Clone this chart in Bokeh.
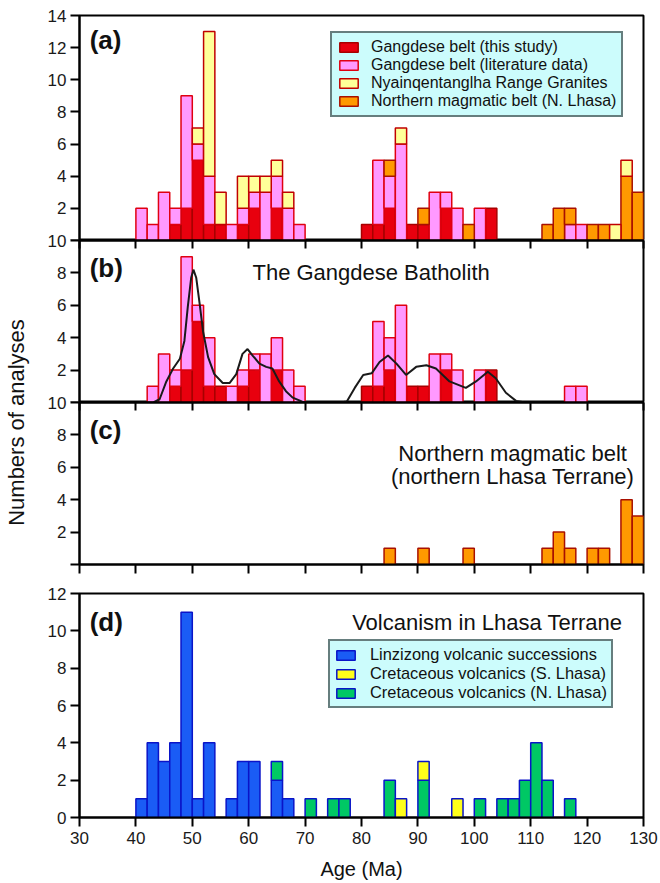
import numpy as np
from bokeh.plotting import figure
from bokeh.layouts import column, row
from bokeh.models import Range1d, FixedTicker, LinearAxis, Legend, LegendItem, Label
from bokeh.embed import file_html
from bokeh.resources import INLINE

FONT = "Liberation Sans"

# ---------------- data (2-Ma bins, left edges) ----------------
bin_left = [40, 42, 44, 46, 48, 50, 52, 54, 56, 58,
            60, 62, 64, 66, 68, 70, 72, 74, 76, 78,
            80, 82, 84, 86, 88, 90, 92, 94, 96, 98,
            100, 102, 104, 106, 108, 110, 112, 114, 116, 118,
            120, 122, 124, 126, 128]

# (a) all granitoids
a_this = [0, 0, 0, 1, 2, 5, 1, 1, 0, 1,
          2, 0, 2, 0, 0, 0, 0, 0, 0, 0,
          1, 1, 2, 0, 1, 1, 0, 2, 0, 0,
          0, 2, 0, 0, 0, 0, 0, 0, 0, 0,
          0, 0, 0, 0, 0]
a_lit = [2, 1, 3, 1, 7, 1, 3, 0, 1, 1,
         1, 3, 2, 2, 1, 0, 0, 0, 0, 0,
         0, 4, 2, 6, 0, 0, 3, 1, 2, 0,
         2, 0, 0, 0, 0, 0, 0, 0, 1, 1,
         0, 0, 0, 0, 0]
a_north = [0, 0, 0, 0, 0, 0, 0, 0, 0, 0,
           0, 0, 0, 0, 0, 0, 0, 0, 0, 0,
           0, 0, 1, 0, 0, 1, 0, 0, 0, 1,
           0, 0, 0, 0, 0, 0, 1, 2, 1, 0,
           1, 1, 0, 4, 3]
a_nyain = [0, 0, 0, 0, 0, 1, 9, 2, 0, 2,
           1, 1, 1, 1, 0, 0, 0, 0, 0, 0,
           0, 0, 0, 1, 0, 0, 0, 0, 0, 0,
           0, 0, 0, 0, 0, 0, 0, 0, 0, 0,
           0, 0, 1, 1, 0]

# (b) Gangdese batholith
b_this = [0, 0, 0, 1, 2, 5, 1, 1, 0, 1,
          2, 0, 2, 0, 0, 0, 0, 0, 0, 0,
          1, 1, 2, 0, 1, 1, 0, 2, 0, 0,
          0, 2, 0, 0, 0, 0, 0, 0, 0, 0,
          0, 0, 0, 0, 0]
b_lit = [0, 1, 3, 1, 7, 1, 3, 0, 1, 1,
         1, 3, 2, 2, 1, 0, 0, 0, 0, 0,
         0, 4, 2, 6, 0, 0, 3, 1, 2, 0,
         2, 0, 0, 0, 0, 0, 0, 0, 1, 1,
         0, 0, 0, 0, 0]
kde_age = [40.5, 43.1, 44.2, 45.4, 46.6, 47.8, 48.6, 49.2, 49.8, 50.2,
           50.7, 51.3, 51.9, 52.8, 53.9, 55.4, 56.6, 57.8, 58.9, 59.8,
           60.7, 61.9, 63.1, 64.2, 65.4, 66.6, 67.8, 69.5, 71.3, 76.2,
           77.4, 78.8, 80.3, 81.8, 83.2, 84.7, 86.2, 87.9, 89.7, 91.5,
           93.2, 95.6, 98.5, 100.3, 102.4, 103.8, 105.6, 107.4, 109.1, 112.0]
kde_val = [0, 0, 0.2, 1.3, 2.1, 2.7, 3.8, 5.9, 7.7, 8.2,
           7.7, 6.1, 4.4, 2.8, 1.75, 1.2, 1.2, 1.75, 3.0, 3.3,
           2.9, 2.4, 2.2, 2.1, 1.3, 0.7, 0.3, 0.05, 0, 0,
           0.06, 0.9, 1.7, 1.8, 2.5, 2.9, 2.4, 1.7, 2.2, 2.3,
           2.1, 1.3, 0.9, 1.3, 1.9, 1.5, 0.6, 0.1, 0, 0]

# (c) northern magmatic belt
c_north = [0, 0, 0, 0, 0, 0, 0, 0, 0, 0,
           0, 0, 0, 0, 0, 0, 0, 0, 0, 0,
           0, 0, 1, 0, 0, 1, 0, 0, 0, 1,
           0, 0, 0, 0, 0, 0, 1, 2, 1, 0,
           1, 1, 0, 4, 3]

# (d) volcanism
d_linz = [1, 4, 3, 4, 11, 1, 4, 0, 1, 3,
          3, 0, 2, 1, 0, 0, 0, 0, 0, 0,
          0, 0, 0, 0, 0, 0, 0, 0, 0, 0,
          0, 0, 0, 0, 0, 0, 0, 0, 0, 0,
          0, 0, 0, 0, 0]
d_nl = [0, 0, 0, 0, 0, 0, 0, 0, 0, 0,
        0, 0, 1, 0, 0, 1, 0, 1, 1, 0,
        0, 0, 2, 0, 0, 2, 0, 0, 0, 0,
        1, 0, 1, 1, 2, 4, 2, 0, 1, 0,
        0, 0, 0, 0, 0]
d_sl = [0, 0, 0, 0, 0, 0, 0, 0, 0, 0,
        0, 0, 0, 0, 0, 0, 0, 0, 0, 0,
        0, 0, 0, 1, 0, 1, 0, 0, 1, 0,
        0, 0, 0, 0, 0, 0, 0, 0, 0, 0,
        0, 0, 0, 0, 0]

x_ticks = [30, 40, 50, 60, 70, 80, 90, 100, 110, 120, 130]

# ---------------- styles ----------------
RED_F, RED_L = "#e8000e", "#a80000"
PINK_F, PINK_L = "#ff99ff", "#e00010"
YEL_F, YEL_L = "#ffff99", "#c00000"
ORA_F, ORA_L = "#ff9900", "#a81000"
BLUE_F, BLUE_L = "#1a5cf5", "#0a14c8"
GRN_F = "#00c864"
DYEL_F = "#ffff1a"
LEG_BG = "#ccfcfc"
TICK_FS = "17px"
TXT_FS = "22px"


def stacked(p, layers):
    centers = np.array(bin_left, float) + 1.0
    bottom = np.zeros(len(bin_left))
    rends = []
    for counts, fill, line in layers:
        c = np.array(counts, float)
        top = bottom + c
        m = c > 0
        r = p.vbar(x=centers[m], width=2, bottom=bottom[m], top=top[m],
                   fill_color=fill, line_color=line, line_width=1.5)
        rends.append(r)
        bottom = top
    return rends


def panel(frame_h, ymax, yticks, hide_zero, top_b, bot_b):
    p = figure(frame_width=564, frame_height=frame_h,
               x_range=Range1d(30, 130), y_range=Range1d(0, ymax),
               x_axis_location=None, output_backend="svg", toolbar_location=None,
               min_border_left=49, min_border_right=17,
               min_border_top=top_b, min_border_bottom=bot_b)
    p.grid.visible = False
    p.outline_line_color = "black"
    p.outline_line_width = 2
    p.outline_line_alpha = 1
    p.border_fill_color = None
    p.background_fill_color = "white"
    ya = p.yaxis[0]
    ya.ticker = FixedTicker(ticks=yticks)
    if hide_zero:
        ya.major_label_overrides = {0: ""}
    ya.major_tick_out = 9
    ya.major_tick_in = 0
    ya.minor_tick_line_color = None
    ya.axis_line_width = 2
    ya.major_tick_line_width = 2
    ya.major_label_standoff = 4
    ya.major_label_text_font = FONT
    ya.major_label_text_font_size = TICK_FS
    ya.major_label_text_color = "#1a1a1a"
    return p


def tick_only_axis(p, place, inward):
    # ticks without labels: use minor ticks only (no label texts at all)
    ax = LinearAxis(ticker=FixedTicker(ticks=[], minor_ticks=x_ticks),
                    major_tick_line_color=None,
                    minor_tick_in=8 if inward else 0, minor_tick_out=0 if inward else 9,
                    minor_tick_line_width=2, minor_tick_line_color="black",
                    major_label_standoff=0, axis_line_width=2)
    p.add_layout(ax, place)


def add_text(p, x, y, text, size=TXT_FS, bold=False, align="left"):
    p.add_layout(Label(x=x, y=y, text=text, text_font=FONT, text_font_size=size,
                       text_font_style="bold" if bold else "normal",
                       text_align=align, text_baseline="middle", text_color="#111111"))


def legend(items, loc, fs, pad, standoff):
    return Legend(items=items, location=loc, background_fill_color=LEG_BG,
                  background_fill_alpha=1, border_line_color="black", border_line_width=2,
                  label_text_font=FONT, label_text_font_size=fs, label_text_color="#111111",
                  glyph_width=23, glyph_height=12, label_standoff=standoff, label_height=17,
                  spacing=0, padding=pad, margin=0)


# ---------------- panel (a) ----------------
pa = panel(225, 14, [0, 2, 4, 6, 8, 10, 12, 14], True, 15, 0)
ra = stacked(pa, [(a_this, RED_F, RED_L), (a_lit, PINK_F, PINK_L),
                  (a_north, ORA_F, ORA_L), (a_nyain, YEL_F, YEL_L)])
add_text(pa, 31.8, 12.45, "(a)", size="26px", bold=True)
pa.add_layout(legend([
    LegendItem(label="Gangdese belt (this study)", renderers=[ra[0]]),
    LegendItem(label="Gangdese belt (literature data)", renderers=[ra[1]]),
    LegendItem(label="Nyainqentanglha Range Granites", renderers=[ra[3]]),
    LegendItem(label="Northern magmatic belt (N. Lhasa)", renderers=[ra[2]]),
], (251, 123), "16px", 5, 11))

# ---------------- panel (b) ----------------
pb = panel(162, 10, [0, 2, 4, 6, 8, 10], True, 10, 0)
pb.margin = (-10, 0, 0, 0)
tick_only_axis(pb, "above", True)
stacked(pb, [(b_this, RED_F, RED_L), (b_lit, PINK_F, PINK_L)])
pb.line(kde_age, kde_val, line_color="#1a1a1a", line_width=2)
add_text(pb, 31.8, 8.33, "(b)", size="26px", bold=True)
add_text(pb, 81.7, 8.04, "The Gangdese Batholith", align="center")

# ---------------- panel (c) ----------------
pc = panel(162, 10, [0, 2, 4, 6, 8, 10], True, 10, 21)
pc.margin = (-10, 0, 0, 0)
tick_only_axis(pc, "above", True)
tick_only_axis(pc, "below", False)
stacked(pc, [(c_north, ORA_F, ORA_L)])
add_text(pc, 31.8, 8.33, "(c)", size="26px", bold=True)
add_text(pc, 106.8, 6.85, "Northern magmatic belt", align="center")
add_text(pc, 106.8, 5.43, "(northern Lhasa Terrane)", align="center")

# ---------------- panel (d) ----------------
pd = panel(224, 12, [0, 2, 4, 6, 8, 10, 12], False, 8, 66)
axd = LinearAxis(ticker=FixedTicker(ticks=x_ticks), major_tick_in=0, major_tick_out=9,
                 minor_tick_line_color=None, axis_line_width=2, major_tick_line_width=2,
                 major_label_text_font=FONT, major_label_text_font_size=TICK_FS,
                 major_label_text_color="#1a1a1a", major_label_standoff=5,
                 axis_label="Age (Ma)", axis_label_text_font=FONT,
                 axis_label_text_font_size="20px", axis_label_text_font_style="normal",
                 axis_label_text_color="#111111", axis_label_standoff=11)
pd.add_layout(axd, "below")
rd = stacked(pd, [(d_linz, BLUE_F, BLUE_L), (d_nl, GRN_F, BLUE_L), (d_sl, DYEL_F, BLUE_L)])
add_text(pd, 31.8, 10.5, "(d)", size="26px", bold=True)
add_text(pd, 102.3, 10.43, "Volcanism in Lhasa Terrane", align="center")
pd.add_layout(legend([
    LegendItem(label="Linzizong volcanic successions", renderers=[rd[0]]),
    LegendItem(label="Cretaceous volcanics (S. Lhasa)", renderers=[rd[2]]),
    LegendItem(label="Cretaceous volcanics (N. Lhasa)", renderers=[rd[1]]),
], (249, 109), "16.4px", 4, 13))

# ---------------- shared y label ----------------
TOTAL_H = 883
lab = figure(width=30, height=TOTAL_H, x_range=Range1d(0, 30), y_range=Range1d(0, TOTAL_H),
             x_axis_location=None, y_axis_location=None, output_backend="svg",
             toolbar_location=None, min_border=0)
lab.outline_line_color = None
lab.grid.visible = False
lab.add_layout(Label(x=16, y=TOTAL_H - 422, text="Numbers of analyses", angle=np.pi / 2,
                     text_align="center", text_baseline="middle", text_font=FONT,
                     text_font_size="22px", text_color="#111111"))

layout = row(lab, column(pa, pb, pc, pd, spacing=0), spacing=0)
open("out.html", "w").write(file_html(layout, INLINE))
